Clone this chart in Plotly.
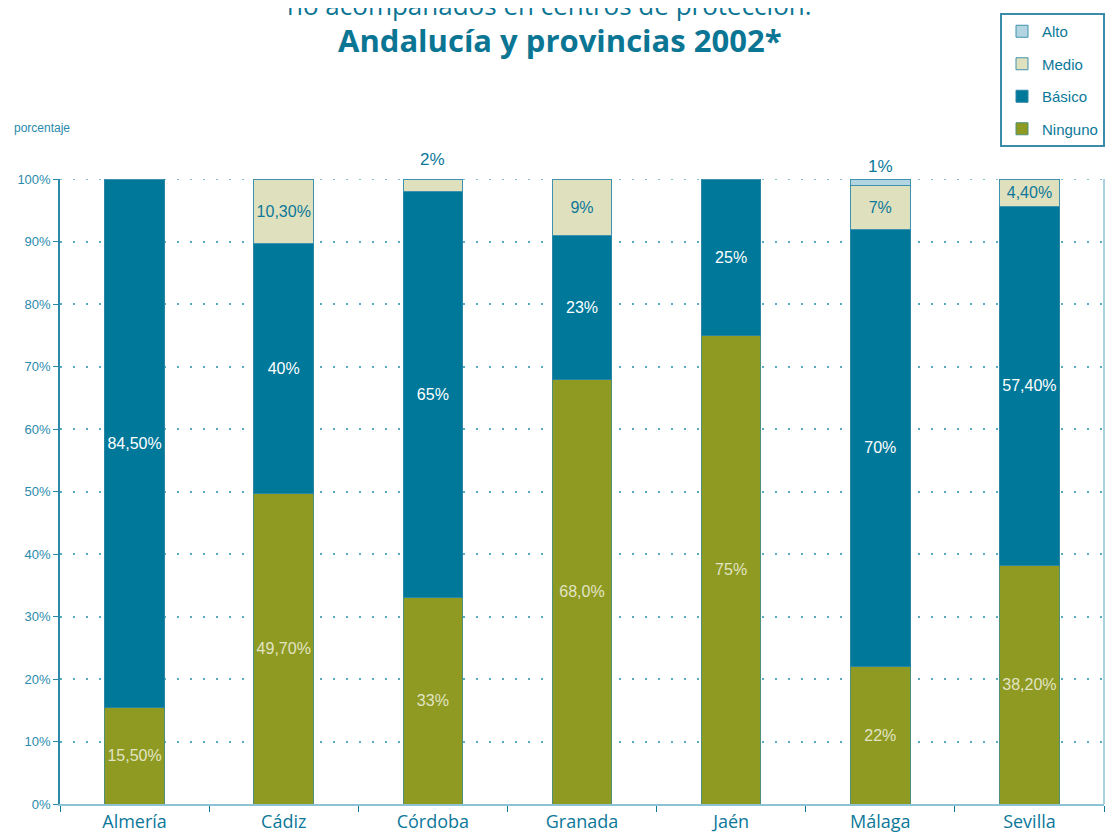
import plotly.graph_objects as go

provincias = ["Almería", "Cádiz", "Córdoba", "Granada", "Jaén", "Málaga", "Sevilla"]
ninguno = [15.5, 49.7, 33, 68.0, 75, 22, 38.2]
basico = [84.5, 40, 65, 23, 25, 70, 57.4]
medio = [0, 10.3, 2, 9, 0, 7, 4.4]
alto = [0, 0, 0, 0, 0, 1, 0]

ninguno_txt = ["15,50%", "49,70%", "33%", "68,0%", "75%", "22%", "38,20%"]
basico_txt = ["84,50%", "40%", "65%", "23%", "25%", "70%", "57,40%"]
medio_txt = ["", "10,30%", "2%", "9%", "", "7%", "4,40%"]
alto_txt = ["", "", "", "", "", "1%", ""]

y_ticks = list(range(0, 101, 10))
y_ticklabels = [f"{v}%" for v in y_ticks]

TEAL = "#0c789a"
LBL_FONT = "Arial"
LBL_SIZE = 16
GRID_DASH = "2px,11px"
GRID_COLOR = "#5aa9c3"

fig = go.Figure()

def inside_text(vals, txts, minv=3):
    return [t if v >= minv else "" for v, t in zip(vals, txts)]

fig.add_trace(go.Bar(
    name="Ninguno", x=provincias, y=ninguno, text=inside_text(ninguno, ninguno_txt),
    marker=dict(color="#8e9a22", line=dict(color="#4f8f78", width=1)),
    textfont=dict(color="#e2e4c4", size=LBL_SIZE, family=LBL_FONT),
    legendgroup="n", legendrank=4))
fig.add_trace(go.Bar(
    name="Básico", x=provincias, y=basico, text=inside_text(basico, basico_txt),
    marker=dict(color="#00789a", line=dict(color="#2a86a4", width=1)),
    textfont=dict(color="white", size=LBL_SIZE, family=LBL_FONT),
    legendgroup="b", legendrank=3))
fig.add_trace(go.Bar(
    name="Medio", x=provincias, y=medio, text=inside_text(medio, medio_txt),
    marker=dict(color="#dfe0bd", line=dict(color="#3f92ad", width=1)),
    textfont=dict(color=TEAL, size=LBL_SIZE, family=LBL_FONT),
    legendgroup="m", legendrank=2))
fig.add_trace(go.Bar(
    name="Alto", x=provincias, y=alto, text=inside_text(alto, alto_txt),
    marker=dict(color="#b3d5e2", line=dict(color="#3f92ad", width=1)),
    textfont=dict(color=TEAL, size=LBL_SIZE, family=LBL_FONT),
    legendgroup="a", legendrank=1))

fig.update_traces(textposition="inside", insidetextanchor="middle",
                  constraintext="none", cliponaxis=False, textangle=0)

# labels for small segments placed above the stack
annotations = []
for i, p in enumerate(provincias):
    top = ninguno[i] + basico[i] + medio[i] + alto[i]
    for vals, txts in ((medio, medio_txt), (alto, alto_txt)):
        if 0 < vals[i] < 3 and txts[i]:
            annotations.append(dict(
                x=p, y=top, xref="x", yref="y", text=txts[i], showarrow=False,
                yanchor="bottom", yshift=1 if alto[i] else 8,
                font=dict(color=TEAL, size=17, family=LBL_FONT)))

fig.update_layout(
    width=1117, height=835,
    margin=dict(l=52, r=21, t=171, b=39, autoexpand=False),
    paper_bgcolor="white", plot_bgcolor="white",
    barmode="stack", bargap=0.6,
    showlegend=True,
    legend=dict(xref="container", yref="container",
                x=992 / 1117, y=1 - 5 / 835, xanchor="left", yanchor="top",
                traceorder="grouped", tracegroupgap=10,
                bordercolor="#3a8ca8", borderwidth=2,
                font=dict(family="Arial", size=15, color=TEAL),
                bgcolor="white"),
    font=dict(family="Arial", color=TEAL),
)

fig.update_xaxes(
    showline=True, linecolor="#8cc4d6", linewidth=2,
    ticks="outside", tickson="boundaries", ticklen=6, tickcolor="#0c789a",
    tickfont=dict(family="Open Sans", size=18, color=TEAL),
    showgrid=False,
)
fig.update_yaxes(
    range=[0, 100], tickvals=y_ticks, ticktext=y_ticklabels,
    showline=True, linecolor="#2a88a8", linewidth=1.5,
    ticks="outside", ticklen=5, tickcolor="#2a88a8",
    tickfont=dict(family="Arial", size=13, color="#2a8aac"),
    showgrid=True, gridcolor=GRID_COLOR, gridwidth=1.5, griddash=GRID_DASH,
    zeroline=False,
)

# top (100%) dotted gridline, which plotly omits at the range edge
fig.add_shape(type="line", xref="paper", yref="y", x0=0, x1=1, y0=100, y1=100,
              line=dict(color=GRID_COLOR, width=1.5, dash=GRID_DASH), layer="below")
# right border line of plot area
fig.add_shape(type="line", xref="paper", yref="y", x0=1, x1=1, y0=0, y1=100,
              line=dict(color="#8cc4d6", width=1.5))

# titles
annotations += [
    dict(xref="paper", yref="paper", x=0.469, y=1.0, yshift=174, yanchor="middle",
         xanchor="center", showarrow=False,
         text="no acompañados en centros de protección.",
         font=dict(family="Open Sans", size=26, color="#0b7594")),
    dict(xref="paper", yref="paper", x=0.479, y=1.0, yshift=139, yanchor="middle",
         xanchor="center", showarrow=False,
         text="<b>Andalucía y provincias 2002*</b>",
         font=dict(family="Open Sans", size=31, color="#0b7594")),
    dict(xref="paper", yref="paper", x=0, y=1.0, xshift=-48, yshift=51,
         yanchor="middle", xanchor="left", showarrow=False, text="porcentaje",
         font=dict(family="Arial", size=12, color="#2a8aac")),
]
fig.update_layout(annotations=annotations)

fig.write_html("out.html")
